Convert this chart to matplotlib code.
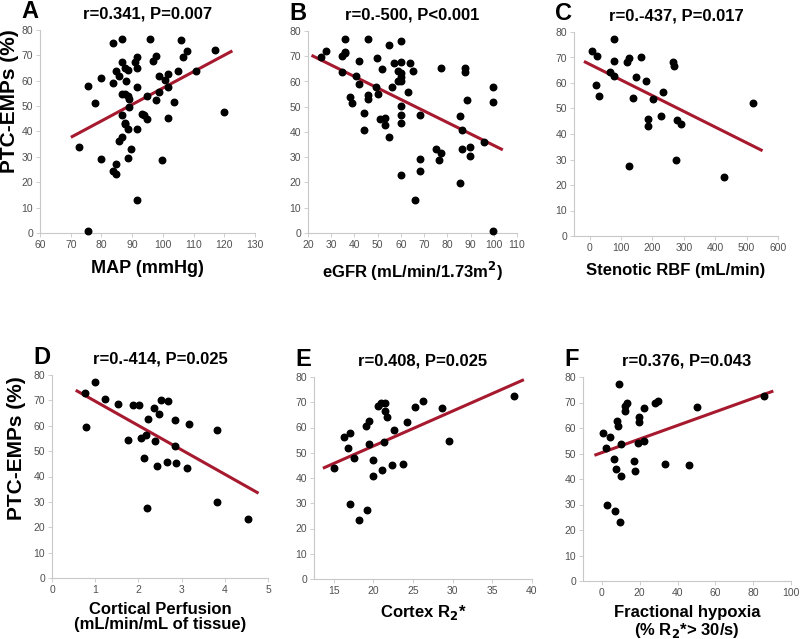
import numpy as np
import matplotlib
matplotlib.use('Agg')
import matplotlib.pyplot as plt

plt.rcParams['font.family'] = ['Liberation Sans', 'DejaVu Sans']

# %% data
map_x = [72.7, 75.7, 75.7, 78.0, 79.8, 79.8, 83.7, 83.7, 83.7, 84.7, 84.7, 84.7, 85.7, 85.7,
         86.7, 86.7, 86.6, 86.7, 86.7, 87.8, 87.8, 87.8, 87.8, 88.0, 88.7, 88.7, 88.8, 88.8,
         88.9, 88.9, 89.6, 90.8, 91.7, 91.7, 91.7, 91.7, 91.7, 93.2, 93.9, 94.7, 94.7, 95.7,
         96.8, 97.8, 97.8, 98.7, 98.7, 99.8, 100.7, 101.7, 101.7, 101.7, 103.7, 104.8, 105.8,
         106.7, 107.8, 110.8, 116.9, 119.9]
map_y = [33.8, 58.0, 0.8, 51.4, 61.2, 29.0, 74.8, 59.0, 24.4, 64.0, 27.0, 23.1, 61.9, 36.1,
         76.5, 67.4, 54.8, 46.4, 37.9, 64.9, 54.8, 43.5, 42.8, 59.9, 64.3, 53.8, 40.8, 29.6,
         49.8, 52.9, 33.3, 67.4, 69.5, 65.0, 57.7, 40.8, 13.1, 47.0, 46.6, 45.0, 53.8, 76.6,
         67.9, 69.9, 52.5, 61.9, 55.6, 28.9, 60.1, 57.7, 62.7, 45.5, 51.5, 64.0, 76.1,
         69.4, 71.7, 63.9, 72.0, 47.6]

egfr_x = [25.6, 27.6, 34.7, 34.7, 35.9, 35.9, 35.9, 37.9, 39.0, 40.7, 41.9, 41.9, 43.9, 43.9,
          45.9, 45.9, 45.9, 49.9, 49.3, 50.1, 51.0, 51.9, 53.0, 53.0, 55.0, 55.0, 56.1, 57.0,
          58.7, 58.7, 60.1, 60.1, 60.1, 60.1, 59.9, 60.1, 60.1, 60.1, 60.1, 63.0, 64.1, 65.0,
          66.1, 68.1, 68.1, 68.1, 75.3, 76.4, 77.3, 77.3, 85.3, 85.3, 86.4, 86.4, 87.6, 87.6,
          88.4, 89.6, 89.6, 95.6, 99.6, 99.6, 99.6]
egfr_y = [69.6, 72.1, 70.1, 63.9, 76.7, 71.8, 71.2, 54.0, 51.4, 62.2, 68.0, 59.0, 47.4, 40.9,
          76.7, 54.6, 53.2, 69.5, 57.7, 55.0, 45.1, 64.8, 45.6, 42.8, 74.6, 38.1, 58.0, 67.5,
          60.1, 64.1, 76.2, 67.7, 63.5, 61.7, 60.0, 50.1, 46.9, 43.5, 23.1, 55.9, 67.5, 64.3,
          13.2, 46.8, 29.5, 24.4, 33.3, 29.0, 31.6, 65.2, 46.4, 19.8, 40.9, 33.2, 65.2, 63.9,
          52.5, 34.0, 30.6, 36.1, 57.7, 51.7, 0.9]

rbf_x = [8.5, 23.5, 21.3, 28.8, 66.2, 76.8, 79.0, 76.8, 119.5, 123.8, 125.9, 136.6, 147.3,
         164.4, 180.4, 186.8, 186.8, 200.6, 226.3, 232.7, 264.7, 269.0, 274.3, 279.6, 292.4,
         429.0, 520.8]
rbf_y = [72.7, 70.4, 59.4, 55.0, 64.5, 77.2, 68.5, 62.8, 68.1, 69.8, 27.4, 54.3, 62.4,
         70.0, 60.7, 45.9, 43.3, 53.6, 47.2, 56.3, 68.3, 66.8, 29.8, 45.5, 43.9,
         23.2, 52.1]

perf_x = [0.76, 0.79, 1.00, 1.23, 1.52, 1.76, 1.87, 2.01, 2.05, 2.13, 2.18, 2.19, 2.22, 2.36,
          2.39, 2.43, 2.48, 2.52, 2.67, 2.68, 2.85, 2.85, 2.87, 3.12, 3.18, 3.82, 3.82, 4.54]
perf_y = [72.8, 59.5, 77.2, 70.7, 68.7, 54.4, 68.1, 68.3, 55.0, 47.3, 56.3, 27.5, 62.6, 66.8,
          53.8, 44.1, 64.5, 70.0, 45.9, 69.9, 62.3, 52.2, 45.4, 43.4, 60.7, 58.2, 30.0, 23.3]

r2_x = [15.0, 16.3, 16.8, 17.0, 17.0, 17.5, 18.2, 19.0, 19.2, 19.4, 19.4, 19.9, 20.0, 20.6,
        21.0, 21.1, 21.3, 21.4, 21.4, 21.7, 22.6, 22.4, 23.7, 24.2, 25.2, 26.2, 28.7, 29.5, 37.7]
r2_y = [43.8, 56.1, 51.8, 57.9, 29.7, 47.9, 23.2, 60.4, 27.4, 62.5, 53.6, 47.1, 40.9, 68.4,
        69.7, 43.0, 54.2, 69.7, 66.4, 64.2, 59.2, 45.1, 45.7, 62.1, 68.2, 70.3, 67.9, 54.7, 72.4]

hyp_x = [0.5, 2.4, 2.7, 4.1, 6.5, 6.8, 7.2, 8.2, 8.7, 9.1, 9.7, 10.1, 10.3, 12.1, 12.1, 13.3,
         16.8, 17.4, 19.5, 19.5, 19.3, 22.2, 22.4, 28.2, 29.9, 33.5, 45.8, 50.1, 85.8]
hyp_y = [58.1, 52.2, 29.8, 56.3, 48.0, 27.4, 44.0, 62.8, 60.6, 77.2, 23.2, 53.8, 41.0, 68.7,
         66.6, 69.9, 47.1, 43.2, 64.5, 62.4, 54.3, 67.9, 55.0, 69.9, 70.4, 45.8, 45.3, 68.2, 72.5]

# regression line ends: (x0, y0, x1, y1)
fits = [(70.5, 38.0, 122.2, 71.5),
        (22.1, 70.1, 103.3, 33.2),
        (-13.9, 68.2, 546.4, 33.7),
        (0.58, 73.7, 4.75, 33.7),
        (13.8, 44.1, 38.8, 78.7),
        (-3.2, 49.5, 89.9, 74.3)]

titles = ['r=0.341, P=0.007', 'r=0.-500, P<0.001', 'r=0.-437, P=0.017',
          'r=0.-414, P=0.025', 'r=0.408, P=0.025', 'r=0.376, P=0.043']
letters = ['A', 'B', 'C', 'D', 'E', 'F']
xlabels = ['MAP (mmHg)', 'eGFR (mL/min/1.73m$^\\mathbf{2}$)', 'Stenotic RBF (mL/min)',
           'Cortical Perfusion\n(mL/min/mL of tissue)', 'Cortex R$_\\mathbf{2}$*',
           'Fractional hypoxia\n(% R$_\\mathbf{2}$*> 30/s)']
xlims = [(60, 130), (20, 110), (-50, 600), (0, 5), (12.5, 40), (-10, 100)]
xticks = [np.arange(60, 131, 10), np.arange(20, 111, 10), np.arange(0, 601, 100),
          np.arange(0, 6, 1), np.arange(15, 41, 5), np.arange(0, 101, 20)]
xs = [map_x, egfr_x, rbf_x, perf_x, r2_x, hyp_x]
ys = [map_y, egfr_y, rbf_y, perf_y, r2_y, hyp_y]

# axes boxes in pixels (left, top, right, bottom)
boxes = [(40, 30, 255, 233), (308, 31, 517, 233), (574, 32, 778, 236),
         (52, 375, 268, 578), (314, 377, 532, 579), (583, 377, 791, 581)]

W, H = 800, 639
fig = plt.figure(figsize=(8, 6.39), dpi=100)
for i in range(6):
    l, t, r, b = boxes[i]
    ax = fig.add_axes([l / W, 1 - b / H, (r - l) / W, (b - t) / H])
    ax.scatter(xs[i], ys[i], s=22, color='black', zorder=3, clip_on=False)
    x0, y0, x1, y1 = fits[i]
    ax.plot([x0, x1], [y0, y1], color='#a6192e', lw=2.2, zorder=2)
    ax.set_xlim(xlims[i])
    ax.set_ylim(0, 80)
    ax.set_xticks(xticks[i])
    ax.set_yticks(np.arange(0, 81, 10))
    for s in ['top', 'right']:
        ax.spines[s].set_visible(False)
    for s in ['left', 'bottom']:
        ax.spines[s].set_color('#c8c8c8')
        ax.spines[s].set_linewidth(0.8)
    ax.tick_params(length=3, width=0.6, color='#c8c8c8', labelsize=7.5,
                   labelcolor='#505050', pad=2)
    ax.set_xlabel(xlabels[i], fontsize=12 if i else 13, fontweight='bold',
                  labelpad=7 if i < 3 else 5, linespacing=1.05)
    ax.set_title(titles[i], fontsize=12, fontweight='bold', pad=8)
    fig.text((l - 19) / W, 1 - (t - 18) / H, letters[i], fontsize=17,
             fontweight='bold', ha='left', va='center')

fig.text(10 / W, 1 - 101 / H, 'PTC-EMPs (%)', rotation=90, fontsize=15,
         fontweight='bold', ha='center', va='center')
fig.text(17 / W, 1 - 448 / H, 'PTC-EMPs (%)', rotation=90, fontsize=15,
         fontweight='bold', ha='center', va='center')

fig.savefig('out.png', dpi=100)
